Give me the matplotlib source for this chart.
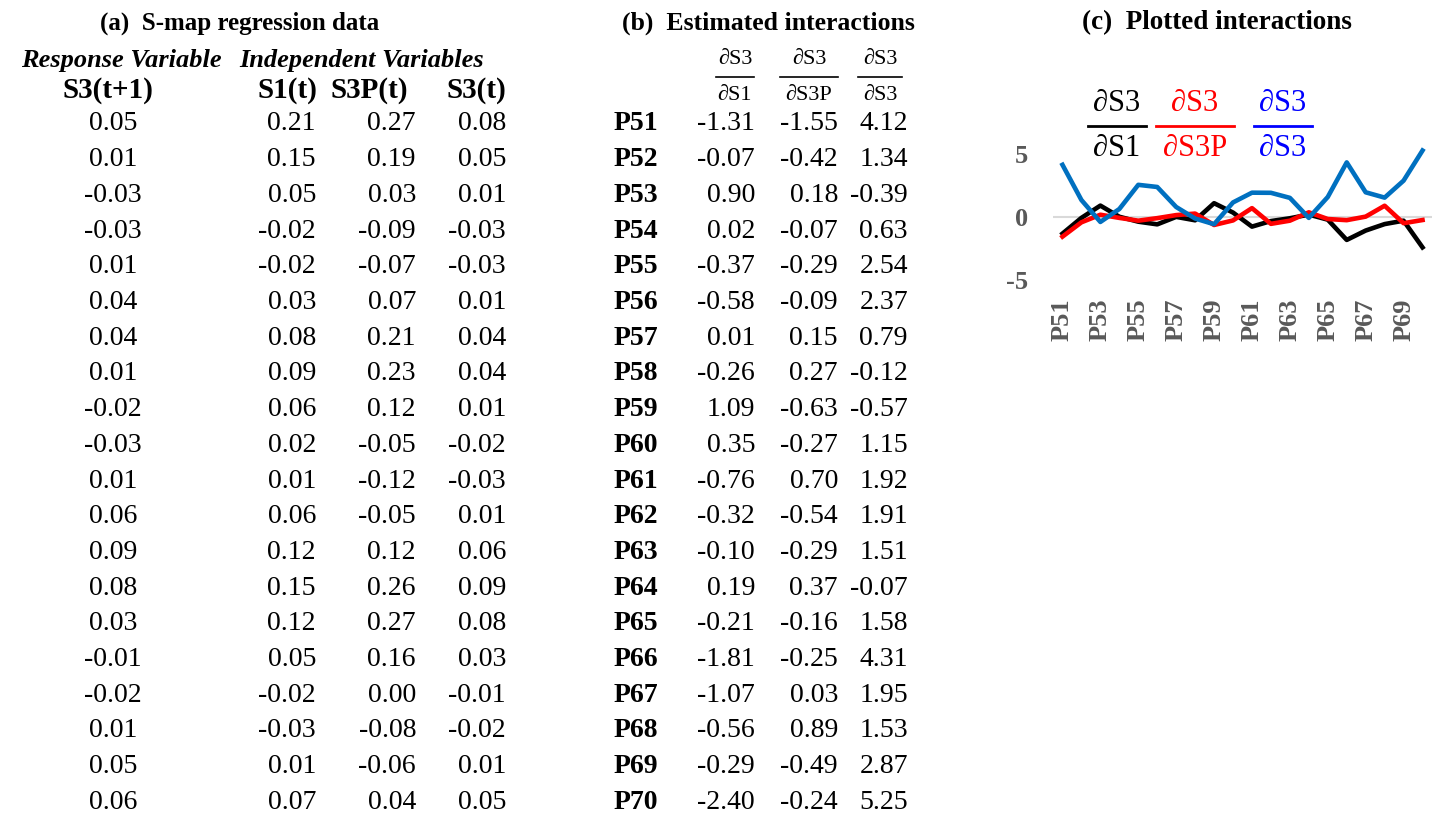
import numpy as np
import matplotlib.pyplot as plt

plt.rcParams['font.family'] = ['Liberation Serif', 'DejaVu Serif']
plt.rcParams['axes.unicode_minus'] = False

# (a) S-map regression data
s3_next = [0.05, 0.01, -0.03, -0.03, 0.01, 0.04, 0.04, 0.01, -0.02, -0.03,
           0.01, 0.06, 0.09, 0.08, 0.03, -0.01, -0.02, 0.01, 0.05, 0.06]
s1_t = [0.21, 0.15, 0.05, -0.02, -0.02, 0.03, 0.08, 0.09, 0.06, 0.02,
        0.01, 0.06, 0.12, 0.15, 0.12, 0.05, -0.02, -0.03, 0.01, 0.07]
s3p_t = [0.27, 0.19, 0.03, -0.09, -0.07, 0.07, 0.21, 0.23, 0.12, -0.05,
         -0.12, -0.05, 0.12, 0.26, 0.27, 0.16, 0.00, -0.08, -0.06, 0.04]
s3_t = [0.08, 0.05, 0.01, -0.03, -0.03, 0.01, 0.04, 0.04, 0.01, -0.02,
        -0.03, 0.01, 0.06, 0.09, 0.08, 0.03, -0.01, -0.02, 0.01, 0.05]

# (b) estimated interactions
patches = ['P%d' % i for i in range(51, 71)]
d_s1 = [-1.31, -0.07, 0.90, 0.02, -0.37, -0.58, 0.01, -0.26, 1.09, 0.35,
        -0.76, -0.32, -0.10, 0.19, -0.21, -1.81, -1.07, -0.56, -0.29, -2.40]
d_s3p = [-1.55, -0.42, 0.18, -0.07, -0.29, -0.09, 0.15, 0.27, -0.63, -0.27,
         0.70, -0.54, -0.29, 0.37, -0.16, -0.25, 0.03, 0.89, -0.49, -0.24]
d_s3 = [4.12, 1.34, -0.39, 0.63, 2.54, 2.37, 0.79, -0.12, -0.57, 1.15,
        1.92, 1.91, 1.51, -0.07, 1.58, 4.31, 1.95, 1.53, 2.87, 5.25]

W, H = 1434, 816
fig = plt.figure(figsize=(W / 100, H / 100), dpi=100)

# full-figure layer in pixel units for the tables
tx = fig.add_axes([0, 0, 1, 1])
tx.set_xlim(0, W)
tx.set_ylim(H, 0)
tx.axis('off')

row0, dy = 124, 35.7
rows = [row0 + i * dy for i in range(len(patches))]
val_fs = 20
title_fs = 18.5

# ---- (a)
tx.text(240, 23, '(a)  S-map regression data', fontsize=18, fontweight='bold', ha='center', va='center')
tx.text(121, 60, 'Response Variable', fontsize=19, fontweight='bold', style='italic', ha='center', va='center')
tx.text(362, 60, 'Independent Variables', fontsize=19, fontweight='bold', style='italic', ha='center', va='center')
tx.text(108, 91, 'S3(t+1)', fontsize=21, fontweight='bold', ha='center', va='center')
tx.text(317, 91, 'S1(t)', fontsize=21, fontweight='bold', ha='right', va='center')
tx.text(408, 91, 'S3P(t)', fontsize=21, fontweight='bold', ha='right', va='center')
tx.text(506, 91, 'S3(t)', fontsize=21, fontweight='bold', ha='right', va='center')
for y, a, b, c, d in zip(rows, s3_next, s1_t, s3p_t, s3_t):
    tx.text(113, y, '%.2f' % a, fontsize=val_fs, ha='center', va='center')
    tx.text(316, y, '%.2f' % b, fontsize=val_fs, ha='right', va='center')
    tx.text(416, y, '%.2f' % c, fontsize=val_fs, ha='right', va='center')
    tx.text(506, y, '%.2f' % d, fontsize=val_fs, ha='right', va='center')

# ---- (b)
tx.text(768, 23, '(b)  Estimated interactions', fontsize=title_fs, fontweight='bold', ha='center', va='center')


def frac(x, y_num, y_line, y_den, den, half, fs, color='black', lw=1.2):
    tx.text(x, y_num, '\u2202S3', fontsize=fs, color=color, ha='center', va='center')
    tx.plot([x - half, x + half], [y_line, y_line], color=color, lw=lw)
    tx.text(x, y_den, '\u2202' + den, fontsize=fs, color=color, ha='center', va='center')


frac(735, 60, 77, 95, 'S1', 19, 16)
frac(809, 60, 77, 95, 'S3P', 29, 16)
frac(880, 60, 77, 95, 'S3', 22, 16)
for y, p, a, b, c in zip(rows, patches, d_s1, d_s3p, d_s3):
    tx.text(614, y, p, fontsize=val_fs, fontweight='bold', ha='left', va='center')
    tx.text(755, y, '%.2f' % a, fontsize=val_fs, ha='right', va='center')
    tx.text(838, y, '%.2f' % b, fontsize=val_fs, ha='right', va='center')
    tx.text(908, y, '%.2f' % c, fontsize=val_fs, ha='right', va='center')

# ---- (c)
tx.text(1217, 23, '(c)  Plotted interactions', fontsize=19.5, fontweight='bold', ha='center', va='center')
frac(1117, 103, 126, 148, 'S1', 29, 22, 'black', 2)
frac(1195, 103, 126, 148, 'S3P', 39, 22, '#FF0000', 2)
frac(1283, 103, 126, 148, 'S3', 29, 22, '#0000FF', 2)

ax = fig.add_axes([1053 / W, 1 - 293 / H, 379 / W, 152 / H])
ax.patch.set_alpha(0)
x = np.arange(len(patches))
ax.axhline(0, color='#D9D9D9', lw=1.5, zorder=1)
ax.plot(x, d_s1, color='black', lw=3.3, zorder=2, clip_on=False)
ax.plot(x, d_s3p, color='#FF0000', lw=3.3, zorder=3, clip_on=False)
ax.plot(x, d_s3, color='#0070C0', lw=3.3, zorder=4, clip_on=False)
ax.set_xlim(-0.5, len(patches) - 0.5)
ax.set_ylim(-6, 6)
ax.set_yticks([-5, 0, 5])
ax.set_yticklabels(['-5', '0', '5'])
ax.set_xticks(x[::2])
ax.set_xticklabels(patches[::2], rotation=90)
for lab in ax.get_xticklabels() + ax.get_yticklabels():
    lab.set_fontweight('bold')
    lab.set_color('#595959')
    lab.set_fontsize(19)
ax.tick_params(axis='y', length=0, pad=18)
ax.tick_params(axis='x', length=0, pad=4)
for s in ax.spines.values():
    s.set_visible(False)

fig.savefig('out.png', dpi=100)
